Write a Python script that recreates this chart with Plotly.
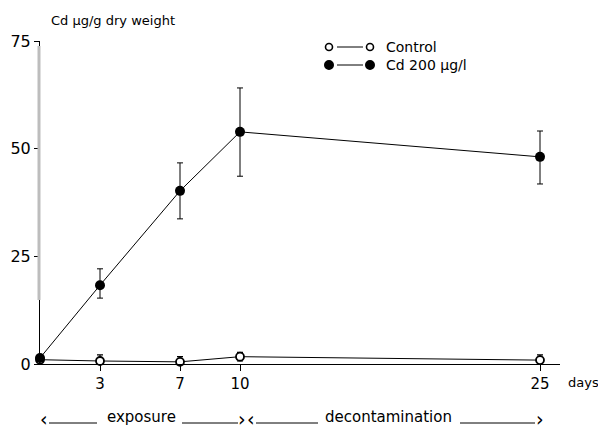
import plotly.graph_objects as go

# ---- data ----
days = [0, 3, 7, 10, 25]
cd_mean = [1.4, 18.3, 40.2, 53.9, 48.1]
cd_err_plus = [0.8, 3.8, 6.5, 10.2, 6.0]
cd_err_minus = [0.8, 3.0, 6.5, 10.3, 6.3]
ctrl_mean = [1.0, 0.7, 0.5, 1.7, 0.9]
ctrl_err = [0.6, 1.4, 1.2, 1.0, 1.2]
tick_days = [3, 7, 10, 25]
y_ticks = [0, 25, 50, 75]

FONT = "DejaVu Sans"
fig = go.Figure()

fig.add_trace(go.Scatter(
    x=days, y=ctrl_mean, mode="lines+markers",
    line=dict(color="black", width=1),
    marker=dict(symbol="circle", size=8, color="white", line=dict(width=1.8, color="black")),
    error_y=dict(type="data", array=ctrl_err, color="black", thickness=1.2, width=3),
    showlegend=False, cliponaxis=False))

fig.add_trace(go.Scatter(
    x=days, y=cd_mean, mode="lines+markers",
    line=dict(color="black", width=1),
    marker=dict(symbol="circle", size=10, color="black"),
    error_y=dict(type="data", array=cd_err_plus, arrayminus=cd_err_minus,
                 color="black", thickness=1, width=3),
    showlegend=False, cliponaxis=False))

fig.update_xaxes(range=[0, 26], tickmode="array", tickvals=tick_days,
                 ticks="outside", ticklen=6, tickcolor="black", automargin=False,
                 showline=True, linecolor="black", linewidth=1, showgrid=False,
                 zeroline=False, tickfont=dict(family=FONT, size=15, color="black"))
fig.update_yaxes(range=[0, 75], tickmode="array", tickvals=y_ticks, ticks="outside",
                 ticklen=5, tickcolor="black", showline=True, linecolor="black",
                 linewidth=1, showgrid=False, zeroline=False, automargin=False,
                 tickfont=dict(family=FONT, size=16, color="black"))

W, H = 520, 323


def px(x):
    return (x - 40) / W


def py(y):
    return (364 - y) / H


# grey scan band along the y axis
fig.add_shape(type="line", xref="paper", yref="paper", x0=px(39), x1=px(39),
              y0=py(300), y1=py(46), line=dict(color="#bdbdbd", width=3))

# legend drawn manually (marker - line - marker)
legend_rows = [("Control", py(47), "white", 3.5), ("Cd 200 \u00b5g/l", py(65), "black", 4.2)]
for label, yy, fillc, rr in legend_rows:
    fig.add_shape(type="line", xref="paper", yref="paper", x0=px(337), x1=px(363),
                  y0=yy, y1=yy, line=dict(color="black", width=1))
    for xx in (px(329), px(370)):
        fig.add_shape(type="circle", xref="paper", yref="paper",
                      x0=xx - rr / W, x1=xx + rr / W, y0=yy - rr / H, y1=yy + rr / H,
                      fillcolor=fillc, line=dict(color="black", width=1.6))
    fig.add_annotation(xref="paper", yref="paper", x=px(384), y=yy, text=label,
                       showarrow=False, xanchor="left", yanchor="middle",
                       font=dict(family=FONT, size=14, color="black"))

fig.add_annotation(xref="paper", yref="paper", x=px(49), y=py(21),
                   text="Cd \u00b5g/g dry weight", showarrow=False,
                   xanchor="left", yanchor="middle",
                   font=dict(family=FONT, size=13, color="black"))
fig.add_annotation(xref="paper", yref="paper", x=px(566), y=py(382), text="days",
                   showarrow=False, xanchor="left", yanchor="middle",
                   font=dict(family=FONT, size=13, color="black"))

# exposure / decontamination bracket labels
yl = py(423)
for a, b in [(49, 97), (182, 238), (256, 318), (460, 535)]:
    fig.add_shape(type="line", xref="paper", yref="paper", x0=px(a), x1=px(b),
                  y0=yl, y1=yl, line=dict(color="black", width=1))
for xx, ch in [(44, "\u2039"), (242, "\u203a"), (251, "\u2039"), (540, "\u203a")]:
    fig.add_annotation(xref="paper", yref="paper", x=px(xx), y=py(419), text=ch,
                       showarrow=False, xanchor="center", yanchor="middle",
                       font=dict(family=FONT, size=19, color="black"))
fig.add_annotation(xref="paper", yref="paper", x=px(141), y=py(417), text="exposure",
                   showarrow=False, xanchor="center", yanchor="middle",
                   font=dict(family=FONT, size=15, color="black"))
fig.add_annotation(xref="paper", yref="paper", x=px(388), y=py(417),
                   text="decontamination", showarrow=False, xanchor="center",
                   yanchor="middle", font=dict(family=FONT, size=15, color="black"))

# page body adds ~8px offset, so the figure is sized to end at the window edge
fig.update_layout(width=598, height=421, margin=dict(l=32, r=46, t=33, b=65),
                  paper_bgcolor="white", plot_bgcolor="white",
                  font=dict(family=FONT, color="black"))

fig.write_html("out.html")
